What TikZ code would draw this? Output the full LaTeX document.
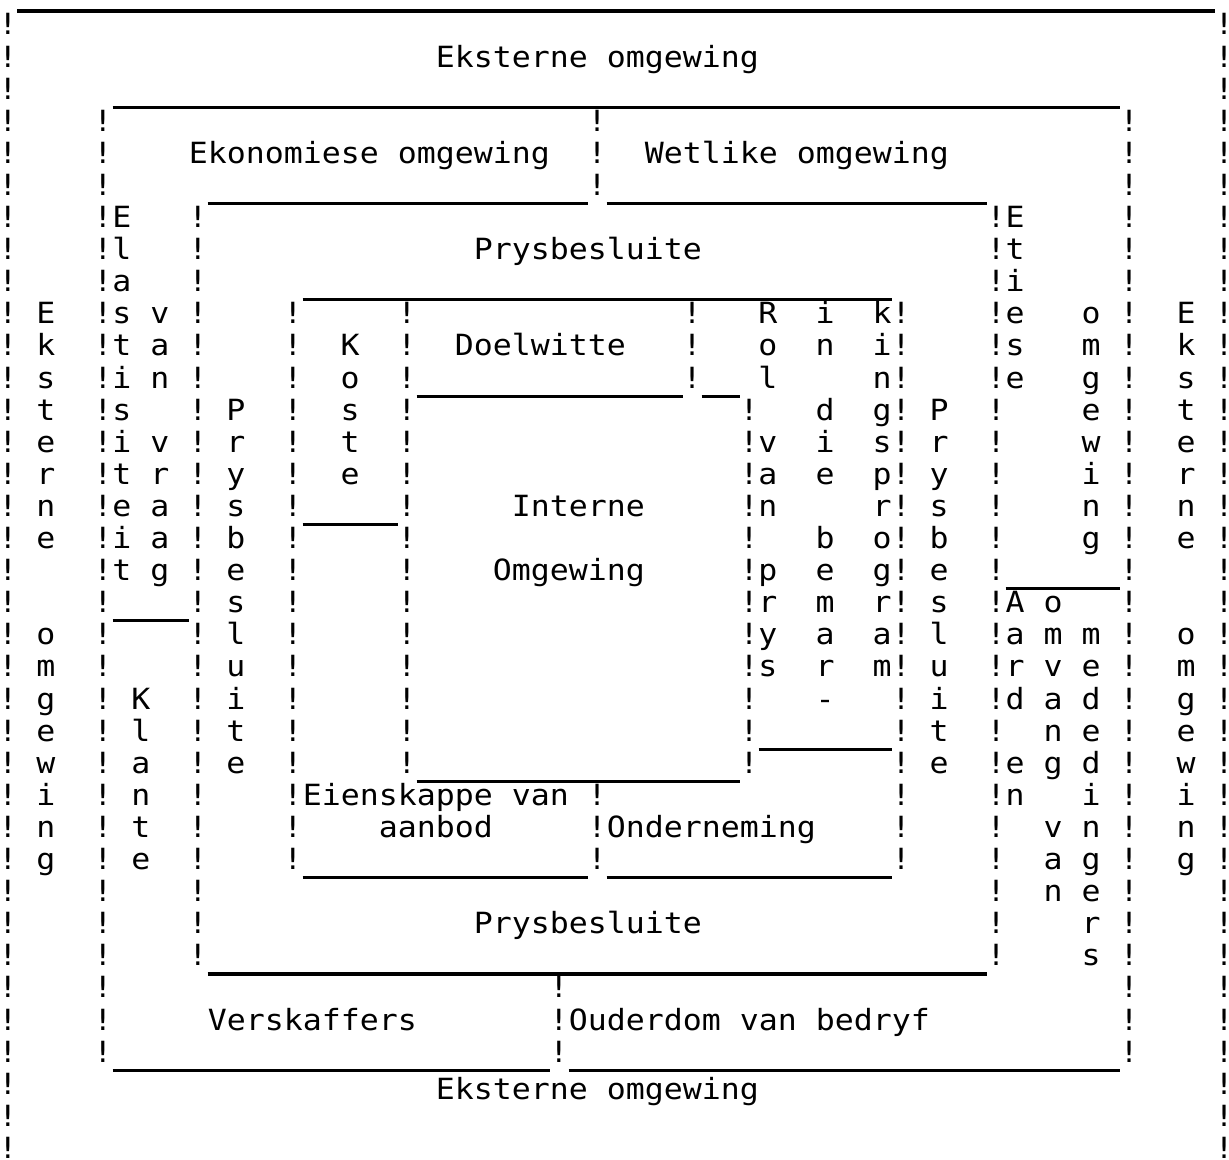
\documentclass[tikz,border=0pt]{standalone}
\usepackage{fontspec}
\usepackage{graphicx}
\newfontfamily\twfont{DejaVu Sans Mono}
% typewriter cell: 9.5pt wide, 16.05pt high
\newcommand\tw{\twfont\fontsize{14.6}{16}\selectfont}
\newcommand\sx[1]{\scalebox{1.0809}[1]{#1}}
% vertical word: name, column, first row, letters
\newcommand\vword[4]{%
  \foreach \ch [count=\k from 0] in {#4}
    \node[glyph] (#1-\k) at (#2,{#3+\k}) {\sx{\ch}};}
% column of exclamation marks: name, column, first row, last row
\newcommand\bangs[4]{%
  \foreach \r in {#3,...,#4}
    \node[glyph] (#1-\r) at (#2,\r) {\sx{!}};}
% underscore rule: row, first column, last column
\newcommand\rulerow[3]{%
  \draw[rulel] (#2-0.5,#1+0.25) -- (#3+0.5,#1+0.25);}
\begin{document}
\begin{tikzpicture}[x=9.5pt,y=-16.05pt,
  glyph/.style={inner sep=0pt,anchor=base,font=\tw},
  word/.style={inner sep=0pt,anchor=base west,font=\tw},
  rulel/.style={line width=1.6pt,line cap=butt}]
\useasboundingbox (-0.4211,-1.0903) rectangle (64.2632,35.0467);
\fill[white] (-0.4211,-1.0903) rectangle (64.2632,35.0467);

% ---- horizontal rules ----
\rulerow{-1}{1}{63}
\rulerow{2}{6}{58}
\rulerow{5}{11}{30}
\rulerow{5}{32}{51}
\rulerow{8}{16}{46}
\rulerow{11}{22}{35}
\rulerow{11}{37}{38}
\rulerow{15}{16}{20}
\rulerow{17}{53}{58}
\rulerow{18}{6}{9}
\rulerow{22}{40}{46}
\rulerow{23}{22}{38}
\rulerow{26}{16}{30}
\rulerow{26}{32}{46}
\rulerow{29}{11}{51}
\rulerow{32}{6}{28}
\rulerow{32}{30}{58}

% ---- vertical borders ----
\bangs{outl}{0}{0}{35}
\bangs{outr}{64}{0}{35}
\bangs{envl}{5}{3}{32}
\bangs{envr}{59}{3}{32}
\bangs{envm}{31}{3}{5}
\bangs{prl}{10}{6}{29}
\bangs{prr}{52}{6}{29}
\bangs{inl}{15}{9}{26}
\bangs{inr}{47}{9}{26}
\bangs{kos}{21}{9}{23}
\bangs{doel}{36}{9}{11}
\bangs{rol}{39}{12}{23}
\bangs{eien}{31}{24}{26}
\bangs{vers}{29}{30}{32}

% ---- horizontal labels ----
\node[word] (ext-top) at (22.5,1) {\sx{Eksterne omgewing}};
\node[word] (ekon) at (9.5,4) {\sx{Ekonomiese omgewing}};
\node[word] (wet) at (33.5,4) {\sx{Wetlike omgewing}};
\node[word] (prys-top) at (24.5,7) {\sx{Prysbesluite}};
\node[word] (doelw) at (23.5,10) {\sx{Doelwitte}};
\node[word] (int1) at (26.5,15) {\sx{Interne}};
\node[word] (int2) at (25.5,17) {\sx{Omgewing}};
\node[word] (eien1) at (15.5,24) {\sx{Eienskappe van}};
\node[word] (eien2) at (19.5,25) {\sx{aanbod}};
\node[word] (onder) at (31.5,25) {\sx{Onderneming}};
\node[word] (prys-bot) at (24.5,28) {\sx{Prysbesluite}};
\node[word] (versk) at (10.5,31) {\sx{Verskaffers}};
\node[word] (oud) at (29.5,31) {\sx{Ouderdom van bedryf}};
\node[word] (ext-bot) at (22.5,33.17) {\sx{Eksterne omgewing}};

% ---- vertical labels ----
\vword{extl1}{2}{9}{E,k,s,t,e,r,n,e}
\vword{extl2}{2}{19}{o,m,g,e,w,i,n,g}
\vword{extr1}{62}{9}{E,k,s,t,e,r,n,e}
\vword{extr2}{62}{19}{o,m,g,e,w,i,n,g}
\vword{elas}{6}{6}{E,l,a,s,t,i,s,i,t,e,i,t}
\vword{van1}{8}{9}{v,a,n}
\vword{vraag}{8}{13}{v,r,a,a,g}
\vword{klante}{7}{21}{K,l,a,n,t,e}
\vword{prysl}{12}{12}{P,r,y,s,b,e,s,l,u,i,t,e}
\vword{koste}{18}{10}{K,o,s,t,e}
\vword{rol}{40}{9}{R,o,l}
\vword{van2}{40}{13}{v,a,n}
\vword{prys}{40}{17}{p,r,y,s}
\vword{in}{43}{9}{i,n}
\vword{die}{43}{12}{d,i,e}
\vword{bemar}{43}{16}{b,e,m,a,r,-}
\vword{kings}{46}{9}{k,i,n,g,s,p,r,o,g,r,a,m}
\vword{prysr}{49}{12}{P,r,y,s,b,e,s,l,u,i,t,e}
\vword{etiese}{53}{6}{E,t,i,e,s,e}
\vword{omgr}{57}{9}{o,m,g,e,w,i,n,g}
\vword{aard}{53}{18}{A,a,r,d}
\vword{en}{53}{23}{e,n}
\vword{omvang}{55}{18}{o,m,v,a,n,g}
\vword{van3}{55}{25}{v,a,n}
\vword{mede}{57}{19}{m,e,d,e,d,i,n,g,e,r,s}
\end{tikzpicture}
\end{document}
